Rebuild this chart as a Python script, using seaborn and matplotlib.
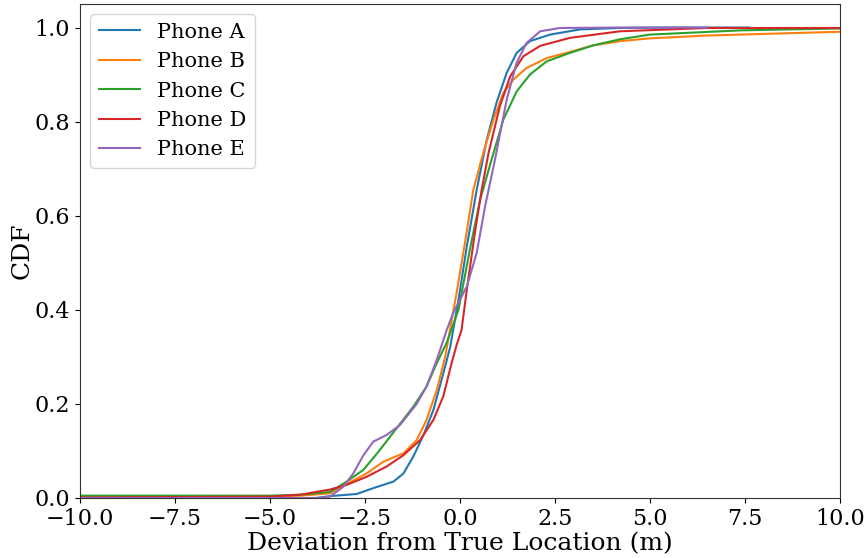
import numpy as np
import pandas as pd
import matplotlib
matplotlib.use("Agg")
import matplotlib.pyplot as plt
import seaborn as sns

phones = ["Phone A", "Phone B", "Phone C", "Phone D", "Phone E"]

a_x = [-12.0, -3.8, -3.42, -2.72, -2.28, -1.75, -1.49, -1.23, -0.96, -0.70, -0.44, -0.26, -0.04, 0.18, 0.44, 0.70, 0.96, 1.23, 1.49, 1.84, 2.37, 3.16, 4.21, 5.5, 7.6]
a_y = [0.0, 0.0, 0.004, 0.0085, 0.021, 0.035, 0.052, 0.088, 0.134, 0.187, 0.265, 0.32, 0.421, 0.535, 0.655, 0.76, 0.84, 0.904, 0.946, 0.971, 0.985, 0.996, 0.999, 1.0, 1.0]

b_x = [-12.0, -10.0, -5.0, -4.2, -3.42, -2.98, -2.46, -2.02, -1.49, -1.14, -0.88, -0.61, -0.39, -0.09, 0.13, 0.35, 0.61, 0.88, 1.14, 1.40, 1.75, 2.28, 2.89, 3.5, 4.21, 5.0, 6.5, 10.0, 12.0]
b_y = [0.002, 0.002, 0.003, 0.005, 0.01, 0.03, 0.052, 0.077, 0.095, 0.123, 0.166, 0.23, 0.30, 0.436, 0.542, 0.655, 0.733, 0.804, 0.861, 0.889, 0.914, 0.935, 0.948, 0.962, 0.971, 0.977, 0.983, 0.991, 0.992]

c_x = [-12.0, -10.0, -5.0, -4.2, -3.42, -2.98, -2.54, -2.11, -1.67, -1.23, -0.88, -0.61, -0.35, -0.04, 0.26, 0.53, 0.83, 1.14, 1.49, 1.84, 2.28, 2.89, 3.5, 4.21, 5.0, 7.4, 10.0, 12.0]
c_y = [0.005, 0.005, 0.005, 0.007, 0.013, 0.035, 0.06, 0.102, 0.148, 0.194, 0.237, 0.287, 0.33, 0.40, 0.528, 0.634, 0.719, 0.804, 0.864, 0.90, 0.928, 0.946, 0.962, 0.975, 0.985, 0.994, 0.998, 0.998]

d_x = [-12.0, -10.0, -5.0, -4.2, -3.42, -2.98, -2.46, -1.93, -1.49, -1.05, -0.70, -0.44, -0.22, -0.09, 0.04, 0.18, 0.39, 0.57, 0.75, 1.05, 1.32, 1.67, 2.11, 2.89, 4.21, 6.5, 10.0, 12.0]
d_y = [0.001, 0.001, 0.003, 0.007, 0.018, 0.028, 0.045, 0.067, 0.091, 0.123, 0.166, 0.216, 0.287, 0.325, 0.357, 0.443, 0.563, 0.655, 0.733, 0.833, 0.896, 0.939, 0.961, 0.978, 0.992, 0.999, 0.999, 0.999]

e_x = [-12.0, -3.7, -3.42, -3.07, -2.81, -2.54, -2.28, -1.93, -1.58, -1.14, -0.88, -0.61, -0.35, -0.18, 0.18, 0.44, 0.66, 0.92, 1.23, 1.49, 1.75, 2.11, 2.63, 4.21, 6.5]
e_y = [0.0, 0.0, 0.003, 0.024, 0.052, 0.091, 0.12, 0.134, 0.155, 0.20, 0.237, 0.294, 0.357, 0.393, 0.45, 0.521, 0.62, 0.719, 0.847, 0.925, 0.967, 0.992, 0.999, 1.0, 1.0]

xs = [a_x, b_x, c_x, d_x, e_x]
ys = [a_y, b_y, c_y, d_y, e_y]

frames = []
for name, x, y in zip(phones, xs, ys):
    frames.append(pd.DataFrame({"x": x, "cdf": y, "phone": name}))
df = pd.concat(frames, ignore_index=True)

plt.rcParams["font.family"] = ["DejaVu Serif"]

fig = plt.figure(figsize=(8.64, 5.58), dpi=100)
ax = fig.add_axes([80/864, 1 - 498/558, 760/864, 494/558])

palette = sns.color_palette("tab10", 5)
sns.lineplot(data=df, x="x", y="cdf", hue="phone", palette=palette,
             sort=False, estimator=None, ax=ax, linewidth=1.5)

ax.set_xlim(-10, 10)
ax.set_ylim(0, 1.05)
ax.set_xticks(np.arange(-10, 10.01, 2.5))
ax.set_yticks(np.arange(0, 1.01, 0.2))
ax.tick_params(labelsize=16)
ax.set_xlabel("Deviation from True Location (m)", fontsize=18, labelpad=2)
ax.set_ylabel("CDF", fontsize=18, labelpad=1)
for s in ax.spines.values():
    s.set_color("#333333")
leg = ax.legend(loc="upper left", fontsize=15, title=None)

fig.savefig("out.png", dpi=100)
